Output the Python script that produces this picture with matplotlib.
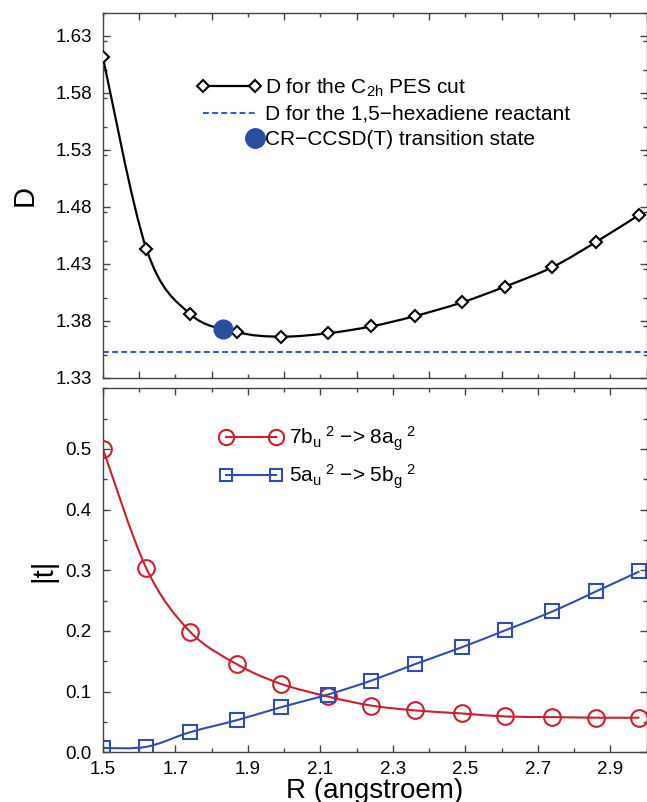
"""Diradical character D and |t| amplitudes along the C2h PES cut."""

import matplotlib

matplotlib.use("Agg")
import matplotlib.pyplot as plt
from matplotlib.legend_handler import HandlerLine2D
from matplotlib.lines import Line2D
from matplotlib.patches import PathPatch
from matplotlib.path import Path
from matplotlib.ticker import MultipleLocator

# ---- data ----
r_values = [1.50, 1.62, 1.74, 1.87, 1.99, 2.12, 2.24, 2.36, 2.49, 2.61, 2.74, 2.86, 2.98]
d_c2h = [1.611, 1.443, 1.386, 1.370, 1.366, 1.369, 1.375, 1.384, 1.396, 1.410, 1.427, 1.449, 1.473]
d_reactant = 1.353
ts_r = [1.83]
ts_d = [1.373]
t_7bu = [0.500, 0.303, 0.199, 0.145, 0.113, 0.092, 0.077, 0.069, 0.064, 0.059, 0.058, 0.057, 0.057]
t_5au = [0.007, 0.009, 0.033, 0.053, 0.074, 0.095, 0.118, 0.145, 0.173, 0.201, 0.232, 0.265, 0.298]

BLACK = "#000000"
RED = "#C8202C"
BLUE = "#2F4FB0"
DOT_BLUE = "#2A4D9E"
DASH_BLUE = "#3A5CC4"
FRAME = "#444444"
MINUS = "\u2212"
DASHES = (0, (2.8, 1.6))

plt.rcParams["font.family"] = ["Liberation Sans", "DejaVu Sans"]
plt.rcParams["mathtext.fontset"] = "custom"
plt.rcParams["mathtext.rm"] = "Liberation Sans"
plt.rcParams["mathtext.it"] = "Liberation Sans"


def smooth_connector(ax, x, y, **kw):
    """Draw a smooth curve through the points (Catmull-Rom as Bezier segments)."""
    pts = list(zip(x, y))
    verts = [pts[0]]
    codes = [Path.MOVETO]
    n = len(pts)
    for i in range(n - 1):
        p0 = pts[i - 1] if i > 0 else pts[i]
        p1 = pts[i]
        p2 = pts[i + 1]
        p3 = pts[i + 2] if i + 2 < n else pts[i + 1]
        c1 = (p1[0] + (p2[0] - p0[0]) / 6, p1[1] + (p2[1] - p0[1]) / 6)
        c2 = (p2[0] - (p3[0] - p1[0]) / 6, p2[1] - (p3[1] - p1[1]) / 6)
        verts += [c1, c2, p2]
        codes += [Path.CURVE4] * 3
    patch = PathPatch(Path(verts, codes), fill=False, transform=ax.transData, **kw)
    ax.add_patch(patch)


class HandlerRightMarker(HandlerLine2D):
    """Legend handler that shows only the marker at the right end of the handle."""

    def create_artists(self, *args, **kwargs):
        artists = super().create_artists(*args, **kwargs)
        for art in artists:
            art.set_markevery([1])
        return artists


def style_axes(ax, ymajor, yminor):
    ax.set_xlim(1.5, 3.0)
    ax.xaxis.set_major_locator(MultipleLocator(0.2))
    ax.xaxis.set_minor_locator(MultipleLocator(0.1))
    ax.yaxis.set_major_locator(MultipleLocator(ymajor))
    ax.yaxis.set_minor_locator(MultipleLocator(yminor))
    ax.tick_params(which="both", direction="in", top=True, right=True,
                   colors=FRAME, labelcolor="black", width=1)
    ax.tick_params(which="major", length=5, labelsize=13.5)
    ax.tick_params(which="minor", length=3)
    ax.tick_params(axis="y", pad=8)
    ax.tick_params(axis="x", pad=6)
    for sp in ax.spines.values():
        sp.set_color(FRAME)
        sp.set_linewidth(1)


fig = plt.figure(figsize=(6.47, 8.02), dpi=100)
ax_top = fig.add_axes([0.159, 0.529, 0.8405, 0.455])
ax_bot = fig.add_axes([0.159, 0.062, 0.8405, 0.454])

# ---- top panel: D ----
smooth_connector(ax_top, r_values, d_c2h, edgecolor=BLACK, linewidth=1.6, zorder=2)
ax_top.plot(r_values, d_c2h, linestyle="none", marker="D", markersize=6.2,
            markerfacecolor="white", markeredgecolor=BLACK, markeredgewidth=1.5, zorder=3)
ax_top.axhline(d_reactant, color=DASH_BLUE, linestyle=DASHES, linewidth=1.5, zorder=1)
ax_top.plot(ts_r, ts_d, linestyle="none", marker="o", markersize=13.5,
            color=DOT_BLUE, zorder=4)

style_axes(ax_top, 0.05, 0.025)
ax_top.set_ylim(1.33, 1.65)
ax_top.set_yticks([1.33, 1.38, 1.43, 1.48, 1.53, 1.58, 1.63])
ax_top.yaxis.set_major_formatter(plt.FormatStrFormatter("%.2f"))
ax_top.tick_params(axis="x", labelbottom=False)
ax_top.set_ylabel("D", fontsize=21, labelpad=12)

h_c2h = Line2D([], [], color=BLACK, linewidth=1.6, marker="D", markersize=6.2,
               markerfacecolor="white", markeredgecolor=BLACK, markeredgewidth=1.5)
h_reac = Line2D([], [], color=DASH_BLUE, linestyle=DASHES, linewidth=1.5)
h_ts = Line2D([], [], linestyle="none", marker="o", markersize=14, color=DOT_BLUE)
ax_top.legend(
    [h_c2h, h_reac, h_ts],
    [r"D for the C$_{\mathregular{2h}}$ PES cut",
     "D for the 1,5" + MINUS + "hexadiene reactant",
     "CR" + MINUS + "CCSD(T) transition state"],
    handler_map={h_ts: HandlerRightMarker(numpoints=2)},
    loc="upper left", bbox_to_anchor=(0.172, 0.826), frameon=False,
    fontsize=15, numpoints=2, handlelength=3.1, handletextpad=0.2,
    labelspacing=0.3, borderpad=0, borderaxespad=0,
)

# ---- bottom panel: |t| ----
smooth_connector(ax_bot, r_values, t_7bu, edgecolor=RED, linewidth=1.5, zorder=2)
ax_bot.plot(r_values, t_7bu, linestyle="none", marker="o", markersize=12,
            markerfacecolor="none", markeredgecolor=RED, markeredgewidth=1.5, zorder=3)
smooth_connector(ax_bot, r_values, t_5au, edgecolor=BLUE, linewidth=1.5, zorder=2)
ax_bot.plot(r_values, t_5au, linestyle="none", marker="s", markersize=10,
            markerfacecolor="none", markeredgecolor=BLUE, markeredgewidth=1.5, zorder=3)

style_axes(ax_bot, 0.1, 0.05)
ax_bot.set_ylim(0.0, 0.6)
ax_bot.set_yticks([0.0, 0.1, 0.2, 0.3, 0.4, 0.5])
ax_bot.yaxis.set_major_formatter(plt.FormatStrFormatter("%.1f"))
ax_bot.set_xticks([1.5, 1.7, 1.9, 2.1, 2.3, 2.5, 2.7, 2.9])
ax_bot.set_ylabel("|t|", fontsize=21, labelpad=6)
ax_bot.set_xlabel("R (angstroem)", fontsize=20, labelpad=0)

h_7bu = Line2D([], [], color=RED, linewidth=1.5, marker="o", markersize=11,
               markerfacecolor="none", markeredgecolor=RED, markeredgewidth=1.5)
h_5au = Line2D([], [], color=BLUE, linewidth=1.5, marker="s", markersize=8.5,
               markerfacecolor="none", markeredgecolor=BLUE, markeredgewidth=1.5)
sup2 = r"$^{\mathregular{\ 2}}$"
ax_bot.legend(
    [h_7bu, h_5au],
    [r"7b$_{\mathregular{u}}$" + sup2 + " " + MINUS + r"> 8a$_{\mathregular{g}}$" + sup2,
     r"5a$_{\mathregular{u}}$" + sup2 + " " + MINUS + r"> 5b$_{\mathregular{g}}$" + sup2],
    loc="upper left", bbox_to_anchor=(0.215, 0.90), frameon=False,
    fontsize=15, numpoints=2, handlelength=3.0, handletextpad=0.3,
    labelspacing=0.45, borderpad=0, borderaxespad=0,
)

fig.savefig("out.png", dpi=100)
